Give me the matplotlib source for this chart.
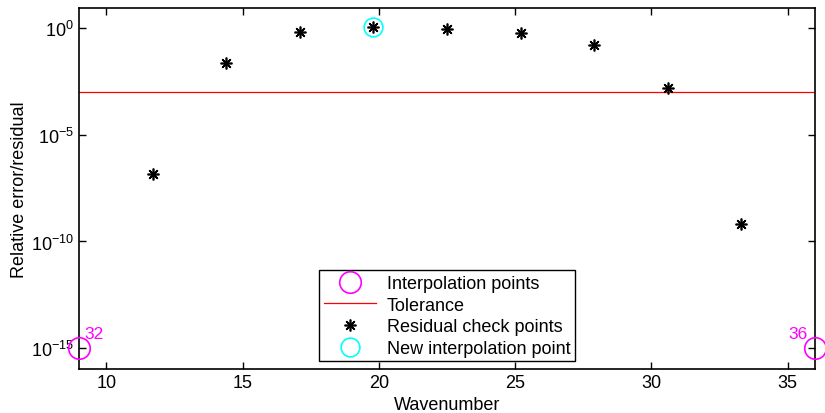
import numpy as np
import matplotlib
matplotlib.use('Agg')
import matplotlib.pyplot as plt

plt.rcParams['font.family'] = ['Liberation Sans', 'DejaVu Sans']
plt.rcParams['mathtext.fontset'] = 'custom'
plt.rcParams['mathtext.rm'] = 'Liberation Sans'
plt.rcParams['mathtext.it'] = 'Liberation Sans'

# interpolation points (existing)
interp_x = [9.0, 36.0]
interp_y = [1e-15, 1e-15]
interp_labels = ['32', '36']

# residual check points
check_x = [11.7, 14.4, 17.1, 19.8, 22.5, 25.2, 27.9, 30.6, 33.3]
check_y = [10**-6.83, 10**-1.63, 10**-0.17, 10**0.06, 10**-0.03,
           10**-0.22, 10**-0.78, 10**-2.8, 10**-9.17]

# new interpolation point (max residual)
new_x = [19.8]
new_y = [10**0.06]

tolerance = 1e-3
xlim = [9, 36]

fig = plt.figure(figsize=(8.25, 4.14), dpi=100)
ax = fig.add_axes([0.0958, 0.107, 0.892, 0.871])

ax.semilogy(interp_x, interp_y, 'o', mfc='none', mec='magenta', ms=15.5, mew=1.2,
            label='Interpolation points', clip_on=False, zorder=5)
ax.plot(xlim, [tolerance, tolerance], '-', color='red', lw=0.9, label='Tolerance')
ax.plot(check_x, check_y, ls='none', marker=(8, 2, 0), color='black', ms=8.5, mew=1.2,
        label='Residual check points')
ax.plot(new_x, new_y, 'o', mfc='none', mec='cyan', ms=13.5, mew=1.2,
        label='New interpolation point')

# index labels of interpolation points
ax.annotate(interp_labels[0], (interp_x[0], interp_y[0]), xytext=(4, 5),
            textcoords='offset points', color='magenta', fontsize=12.5, ha='left', va='bottom')
ax.annotate(interp_labels[1], (interp_x[1], interp_y[1]), xytext=(-5, 5),
            textcoords='offset points', color='magenta', fontsize=12.5, ha='right', va='bottom')

ax.set_xlim(xlim)
ax.set_ylim(10**-15.97, 10**0.95)
ax.set_xticks([10, 15, 20, 25, 30, 35])
ax.set_yticks([1e-15, 1e-10, 1e-5, 1e0])
ax.yaxis.set_minor_locator(matplotlib.ticker.NullLocator())
ax.tick_params(direction='in', length=5, width=1, top=True, right=True, labelsize=13)
for s in ax.spines.values():
    s.set_linewidth(1.2)

ax.set_xlabel('Wavenumber', fontsize=13, labelpad=4)
ax.set_ylabel('Relative error/residual', fontsize=13, labelpad=2)

leg = ax.legend(loc='lower center', bbox_to_anchor=(0.5, 0.02), fontsize=13,
                fancybox=False, edgecolor='black', framealpha=1, borderaxespad=0,
                handlelength=2.9, labelspacing=0.26, borderpad=0.25, handletextpad=0.6)
leg.get_frame().set_linewidth(1.0)

fig.savefig('out.png', dpi=100)
